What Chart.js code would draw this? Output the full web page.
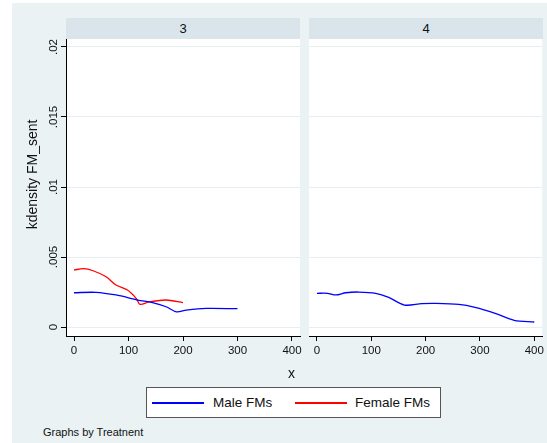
<!DOCTYPE html>
<html>
<head>
<meta charset="utf-8">
<title>kdensity FM_sent by Treatnent</title>
<script src="https://cdn.jsdelivr.net/npm/chart.js@4"></script>
<style>
  body {
    margin: 0;
    width: 547px;
    height: 443px;
    position: relative;
    overflow: hidden;
    background: #fff;
    font-family: "Liberation Sans", Arial, sans-serif;
    color: #111;
  }
  #graph { position: absolute; left: 12px; top: 3px; width: 535px; height: 440px; background: #eaf2f3; }
  .strip {
    position: absolute; top: 18px; height: 21px; line-height: 21px;
    background: #d9e5eb; text-align: center; font-size: 13px;
  }
  .box { position: absolute; }
  .lbl { position: absolute; white-space: nowrap; }
  #legend {
    position: absolute; left: 146px; top: 387px; width: 295px; height: 31px;
    box-sizing: border-box; background: #fff; border: 1.5px solid #555;
  }
  .swatch { position: absolute; height: 1.6px; }
</style>
</head>
<body>
<div id="graph"></div>
<div class="strip" style="left:66px;width:234px;">3</div>
<div class="strip" style="left:309px;width:234px;">4</div>

<div class="box" style="left:12px;top:39px;">
  <canvas id="panel3" width="300" height="330"></canvas>
</div>
<div class="box" style="left:300px;top:39px;">
  <canvas id="panel4" width="247" height="330"></canvas>
</div>

<div class="lbl" style="left:288px;top:365px;font-size:14px;">x</div>

<div id="legend"></div>
<div class="swatch" style="left:152px;top:402px;width:52px;background:#0000ff;"></div>
<div class="lbl" style="left:213px;top:395px;font-size:13.5px;">Male FMs</div>
<div class="swatch" style="left:295px;top:402px;width:52px;background:#ff0000;"></div>
<div class="lbl" style="left:355px;top:395px;font-size:13.5px;">Female FMs</div>

<div class="lbl" style="left:43px;top:426px;font-size:11px;">Graphs by Treatnent</div>

<script>
// kernel density estimates of FM_sent, read at points along each curve
const panel3MaleX = [0, 40, 77, 117, 144, 169, 188, 206, 242, 300];
const panel3MaleY = [0.00245, 0.00248, 0.00229, 0.00193, 0.00174, 0.00145, 0.00109, 0.00121, 0.00133, 0.00131];

const panel3FemaleX = [0, 17, 35, 59, 77, 98, 114, 121, 138, 169, 200];
const panel3FemaleY = [0.00407, 0.00417, 0.00402, 0.00359, 0.0030, 0.00264, 0.00205, 0.00162, 0.00179, 0.00193, 0.00174];

const panel4MaleX = [0, 19, 35, 53, 77, 108, 132, 161, 193, 218, 261, 291, 328, 363, 400];
const panel4MaleY = [0.00241, 0.00241, 0.00229, 0.00245, 0.0025, 0.00241, 0.00212, 0.00157, 0.00167, 0.00169, 0.00162, 0.00141, 0.00098, 0.00048, 0.00036];

const xTicks = [0, 100, 200, 300, 400];
const yTicks = [0, 0.005, 0.01, 0.015, 0.02];
const yTickLabels = ['0', '.005', '.01', '.015', '.02'];
const yTitle = 'kdensity FM_sent';

const FONT = '"Liberation Sans", Arial, sans-serif';
const GRID = '#e6eef1';

function toPoints(xs, ys) {
    return xs.map((x, i) => ({ x: x, y: ys[i] }));
}

function lineSet(label, xs, ys, color) {
    return {
        label: label,
        data: toPoints(xs, ys),
        borderColor: color,
        borderWidth: 1.3,
        pointRadius: 0,
        tension: 0.3,
        fill: false
    };
}

// white plot region behind the curves
const plotBg = {
    id: 'plotBg',
    beforeDraw(chart) {
        const a = chart.chartArea;
        const ctx = chart.ctx;
        ctx.save();
        ctx.fillStyle = '#fff';
        ctx.fillRect(a.left, a.top, a.right - a.left, a.bottom - a.top);
        ctx.restore();
    }
};

// Stata-style vertical tick labels centred on each tick, plus the axis title
const yLabels = {
    id: 'yLabels',
    afterDraw(chart) {
        const y = chart.scales.y;
        const ctx = chart.ctx;
        ctx.save();
        ctx.fillStyle = '#111';
        ctx.font = '11.5px ' + FONT;
        ctx.textAlign = 'center';
        ctx.textBaseline = 'middle';
        yTicks.forEach((v, i) => {
            ctx.save();
            ctx.translate(41.5, y.getPixelForValue(v));
            ctx.rotate(-Math.PI / 2);
            ctx.fillText(yTickLabels[i], 0, 0);
            ctx.restore();
        });

        // title sits a little above the middle of the plot region
        ctx.font = '14px ' + FONT;
        ctx.textBaseline = 'alphabetic';
        ctx.translate(24.7, y.getPixelForValue(0.0109));
        ctx.rotate(-Math.PI / 2);
        ctx.fillText(yTitle, 0, 0);
        ctx.restore();
    }
};

function makePanel(id, datasets, withYAxis, padding) {
    const ctx = document.getElementById(id).getContext('2d');
    return new Chart(ctx, {
        type: 'line',
        data: { datasets: datasets },
        options: {
            responsive: false,
            animation: false,
            layout: { padding: padding },
            plugins: { legend: { display: false }, tooltip: { enabled: false } },
            scales: {
                x: {
                    type: 'linear',
                    min: -14.7,
                    max: 414.7,
                    afterBuildTicks: s => { s.ticks = xTicks.map(v => ({ value: v })); },
                    afterFit: s => { s.height = 33; },
                    border: { display: true, color: '#000', width: 1 },
                    grid: { drawOnChartArea: false, drawTicks: true, tickLength: 5, tickColor: '#000' },
                    ticks: { color: '#111', padding: 3, maxRotation: 0, font: { family: FONT, size: 11.5 } }
                },
                y: {
                    type: 'linear',
                    min: -0.00064,
                    max: 0.02057,
                    afterBuildTicks: s => { s.ticks = yTicks.map(v => ({ value: v })); },
                    afterFit: s => { s.width = withYAxis ? 54 : 0; },
                    border: { display: withYAxis, color: '#000', width: 1 },
                    grid: {
                        color: GRID,
                        lineWidth: 1,
                        drawTicks: withYAxis,
                        tickLength: 5,
                        tickColor: '#000'
                    },
                    ticks: { display: false },
                    title: { display: false }
                }
            }
        },
        plugins: withYAxis ? [plotBg, yLabels] : [plotBg]
    });
}

makePanel('panel3', [
    lineSet('Male FMs', panel3MaleX, panel3MaleY, '#0000ff'),
    lineSet('Female FMs', panel3FemaleX, panel3FemaleY, '#ff0000')
], true, { left: 0, right: 12, top: 0, bottom: 0 });

makePanel('panel4', [
    lineSet('Male FMs', panel4MaleX, panel4MaleY, '#0000ff')
], false, { left: 9, right: 4, top: 0, bottom: 0 });
</script>
</body>
</html>
